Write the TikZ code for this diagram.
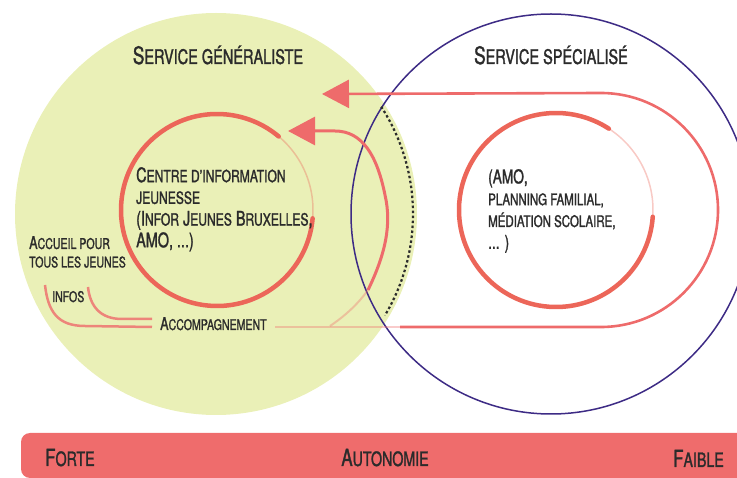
\documentclass[tikz,border=0pt]{standalone}
\usepackage{fontspec}
\setmainfont{TeX Gyre Heros}[FakeStretch=0.72, FakeBold=1.4]
\usetikzlibrary{arrows.meta, calc}

\definecolor{genfill}{HTML}{EAF0B7}
\definecolor{specline}{HTML}{3D2B85}
\definecolor{brushred}{HTML}{EC6659}
\definecolor{arrowred}{HTML}{EE6B6B}
\definecolor{barred}{HTML}{EF6C6C}
\definecolor{ink}{HTML}{2B2B2B}

% small capitals drawn as scaled capitals
\newcommand\smc[1]{\scalebox{0.84}{\MakeUppercase{#1}}}

\tikzset{
  brush/.style={draw=brushred, line width=4.5pt, line cap=round},
  fade/.style={draw=brushred, line width=1.5pt, opacity=0.35},
  flow/.style={draw=arrowred, line width=3pt, -{Triangle[length=27pt,width=28pt]}},
  infoline/.style={draw=arrowred, line width=2.5pt, opacity=0.8},
  title/.style={text=ink, inner sep=0pt, font=\fontsize{24}{27}\selectfont},
  body/.style={text=ink, inner sep=0pt, align=left, font=\fontsize{20}{21.7}\selectfont},
  small/.style={text=ink, inner sep=0pt, align=left, font=\fontsize{17.5}{18.5}\selectfont},
  barlbl/.style={text=ink, inner sep=0pt, font=\fontsize{23.5}{28}\selectfont},
}

\begin{document}
\begin{tikzpicture}[x=1pt, y=-1pt]

\useasboundingbox (0,0) rectangle (737,478);

% Define centres
\coordinate (G) at (216,214);
\coordinate (S) at (551,214);
\coordinate (cL) at (217,210);
\coordinate (cR) at (556,210);

% Big circles
\fill[genfill] (G) circle[radius=201];
\draw[specline, line width=1.5pt] (S) circle[radius=200];

% Dotted border inside the green circle
\draw[ink, line width=2.2pt, dash pattern=on 2.5pt off 2.5pt]
  ($(G)+(-33:197)$) arc[start angle=-33, end angle=31, radius=197];

% Inner loops
\draw[brush] ($(cL)+(5:96)$) arc[start angle=5, end angle=310, radius=96];
\draw[fade] ($(cL)+(310:96)$) arc[start angle=310, end angle=368, radius=96];
\draw[brush] ($(cR)+(4:97)$) arc[start angle=4, end angle=303, radius=97];
\draw[fade] ($(cR)+(303:97)$) arc[start angle=303, end angle=367, radius=97];

% Labels
\node[title, anchor=base] (gen) at (218,64) {S\smc{ervice généraliste}};
\node[title, anchor=base] (spec) at (551,64) {S\smc{ervice spécialisé}};
\node[body, anchor=north west] (cij) at (136,167)
  {C\smc{entre d'information}\\\smc{jeunesse}\\(I\smc{nfor} J\smc{eunes} B\smc{ruxelles},\\AMO, ...)};
\node[body, font=\fontsize{19}{21.8}\selectfont, anchor=north west] (specinfo) at (488,169)
  {(AMO,\\\smc{planning familial,}\\\smc{médiation scolaire,}\\... )};
\node[small, anchor=north west] (accueil) at (29,236) {A\smc{ccueil pour}\\\smc{tous les jeunes}};
\node[small, anchor=base west] (infos) at (52,302) {\smc{infos}};
\node[small, anchor=base west] (accomp) at (160,330) {A\smc{ccompagnement}};

% Ends of the flows
\coordinate (loopin) at (275,327);
\coordinate (loopmid) at (400,327);
\coordinate (tipA) at (322,94);
\coordinate (tipB) at (288,131);
\coordinate (infoA) at (152,327);
\coordinate (infoB) at (152,319);

% Outer loop arrow
\draw[fade, draw=arrowred, line width=2pt] (loopin) -- (loopmid);
\draw[flow, line width=2.6pt] (loopmid) -- (601,327)
  arc[start angle=90, end angle=-90, radius=117] -- (tipA);

% Inner arrow
\draw[fade, draw=arrowred, line width=2pt] (330,326) .. controls (345,316) and (358,304) .. (368,290);
\draw[flow] (368,290) .. controls (385,255) and (392,225) .. (385,195)
  .. controls (377,155) and (362,131) .. (335,131) -- (tipB);

% Infos strokes
\draw[infoline] (45,285) .. controls (48,312) and (58,326) .. (85,326) -- (infoA);
\draw[infoline] (88,287) .. controls (90,306) and (100,319) .. (122,319) -- (infoB);

% Autonomy bar
\fill[barred, rounded corners=9pt] (21,433) rectangle (750,478);
\node[barlbl, anchor=base west] (forte) at (45,466) {F\smc{orte}};
\node[barlbl, anchor=base] (autonomie) at (385,466) {A\smc{utonomie}};
\node[barlbl, anchor=base east] (faible) at (724,467) {F\smc{aible}};

\end{tikzpicture}
\end{document}
